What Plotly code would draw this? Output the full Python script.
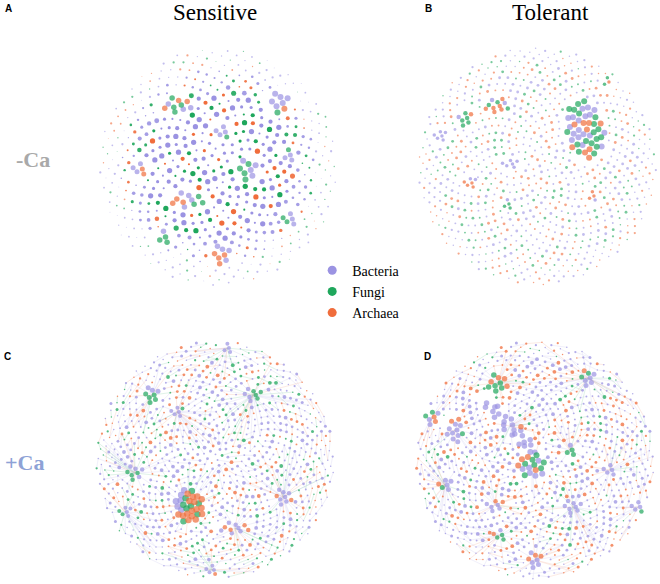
import math
import plotly.graph_objects as go

# ---------------- data ----------------
CATEGORIES = ["Bacteria", "Fungi", "Archaea"]
CODES = ["B", "F", "A"]
COLUMN_TITLES = ["Sensitive", "Tolerant"]
ROW_TITLES = ["-Ca", "+Ca"]
PANEL_LABELS = ["A", "B", "C", "D"]

# peripheral nodes of each network: count, type sequence, degree-class sequence
A_BG_COUNT = 640
A_BG_TYPES = ("BFBBABBBBF" "ABBBFABBBB" "ABBFBABBBF" "BABBBFABFB" "BAFBBBFBAB"
              "FBBABFBBBA" "BBFBABBFBB" "AFBBBBABBF" "BBAFBBBFAB" "FBBABBF")
A_BG_DEG = "4352435324" "5342534435" "2435425345" "2343524534" "2533452435" "4253425345" "2"
B_BG_COUNT = 900
B_BG_TYPES = ("BAFBABBFBA" "ABFABBAFAB" "BFBABFABAB" "FBAABFBABB" "FABBAFBAFB"
              "ABBFBBAFAB" "FBABAFBABF" "ABFBBABFBA" "BFABABFBBA" "FBABAFB")
B_BG_DEG = "2322323222" "3323232223" "2322332322" "2323223323" "2232322332" "3223232232" "3"
C_BG_COUNT = 1100
C_BG_TYPES = ("BABFBBBBFA" "BBAFBABBFB" "ABBFBBABFB" "ABBAFBBBBF" "BABAFBBABF"
              "BBBBAFBABF" "BBABABFBBA" "FBBBBABFBA" "BBAFBABBBF" "BABBFAB")
C_BG_DEG = "2332232432" "2323342232" "3224323322" "3242332232" "4232322343" "2232342322" "3"
D_BG_COUNT = 1100
D_BG_TYPES = ("BABBFBABBA" "FBABBABFBA" "BABBAFBBAB" "ABBFBABBAB" "BABFBBABBA"
              "FBABBABABF" "BBABABBFBA" "BABBAFBBAB" "BFBABBABAB" "BAFBBAB")
D_BG_DEG = "2342232432" "3232342232" "3224323423" "3242332243" "4232432343" "2232342324" "3"

# modules (densely connected groups) of each network, listed as member types
A_MODULES = ["FFABBAFFBA", "BBBABBFB", "BFFBFBFB", "BABFAFBBFA", "AABBABAB",
             "FFBF", "BFBBF", "ABBAB", "BBBFB", "BBFB"]
B_MODULES = ["ABABBAFBFBBFAFBFFBBABFFBFBFAFFBBFBAFFBFBAFBAF", "AAFAFBABFAA",
             "FFFFBAF", "BBBBBB", "AABAAB", "BBBBBB", "AAAB", "FFBF", "AFF"]
C_MODULES = ["FFAAFAAFABAABFAAFBAABAAFABAFBA", "FFBFFBFB", "FBFFBFBB",
             "FFBBFBFB", "BBBBABBBA", "BABBAABBAB", "BFBBFB", "BBBAB", "BBBB", "BBBBBF"]
D_MODULES = ["FFAFAAFFAF", "ABFAFBB", "BBBBBBBAFBAB", "BBBBBBBBBBBBBBBBBBBBBBBAB",
             "FBFAFBBAFBFBAFFBBA", "BBFBFBBA", "FFBF", "BFBBAB", "BBABAABB",
             "FFBFA", "BBBBBBBB", "BBABBAB", "BBBBB", "BBBFB"]

# ---------------- layout & style ----------------
COLORS = {"B": "#9b93e2", "F": "#1fa75c", "A": "#f06d3c"}
R = 119
PANEL_CENTERS = [(218, 167), (537, 166), (215, 460), (535, 460)]
# module placement: (dx, dy, marker size, node spacing, stretch x, stretch y, angle deg)
A_MOD_LAYOUT = [(-40, -62, 5.5, 6.5, 1.3, 0.8, 0), (62, -64, 6, 7, 1, 1, 0), (30, 3, 6, 7, 1, 1, 0),
                (-30, 33, 5.5, 6.5, 1.5, 0.8, 0), (4, 88, 5.5, 6.5, 1, 1, 0), (-55, 70, 5.5, 6.5, 1, 1, 0),
                (72, 52, 5, 6, 1, 1, 0), (-78, 2, 5, 6, 1, 1, 0), (5, -35, 5, 6, 1, 1, 0),
                (70, -12, 5, 6, 1, 1, 0)]
B_MOD_LAYOUT = [(48, -36, 6, 6.5, 0.8, 1.25, -15), (-40, -60, 4.5, 5.5, 1.3, 0.8, 0),
                (-72, -48, 4.5, 5.5, 1, 1, 0), (-97, -30, 3.5, 5, 1, 1, 0), (-67, 17, 3.5, 5, 1, 1, 0),
                (-27, -2, 3.5, 5, 1.3, 0.8, 0), (55, 30, 3.5, 5, 1, 1, 0), (-30, 38, 3.5, 5, 1, 1, 0),
                (70, -84, 3.5, 5, 1, 1, 0)]
C_MOD_LAYOUT = [(-26, 46, 6.5, 5.2, 0.95, 1.1, 0), (-63, -65, 5, 5.5, 1, 1, 0), (38, -65, 4.5, 5.5, 1.3, 0.8, 0),
                (-80, 13, 4.5, 5.5, 1.2, 0.9, 0), (68, 37, 4.5, 5.5, 1, 1, 0), (20, 68, 4.5, 5.5, 1.6, 0.7, 0),
                (-90, 52, 4, 5, 1, 1, 0), (-3, 110, 4, 5, 1, 1, 0), (12, -112, 4, 5, 1, 1, 0),
                (-38, -48, 4, 5, 1, 1, 0)]
D_MOD_LAYOUT = [(-37, -77, 5.5, 6, 1, 1, 0), (-103, -43, 5, 5.5, 1, 1, 0), (-80, -30, 5, 5.5, 0.9, 1.2, 0),
                (-25, -34, 5.5, 5.5, 2.6, 0.5, 45), (-3, 5, 6, 6, 1, 1, 0), (53, -82, 5, 5.5, 1, 1, 0),
                (35, -10, 5, 5.5, 1, 1, 0), (-90, 25, 5, 5.5, 1, 1, 0), (0, 100, 5, 5.5, 1, 1, 0),
                (-35, 75, 4.5, 5.5, 1, 1, 0), (38, 47, 4.5, 5.5, 1.3, 0.8, 0), (-40, 45, 4.5, 5.5, 1.3, 0.8, 0),
                (75, 10, 4.5, 5.5, 1, 1, 0), (103, 47, 4.5, 5.5, 1, 1, 0)]

# (background count, types, degrees, modules, module layout, size mode, bg opacity, edges)
NETWORKS = [
    (A_BG_COUNT, A_BG_TYPES, A_BG_DEG, A_MODULES, A_MOD_LAYOUT, "sparse_big", 1.0, False),
    (B_BG_COUNT, B_BG_TYPES, B_BG_DEG, B_MODULES, B_MOD_LAYOUT, "small", 0.6, False),
    (C_BG_COUNT, C_BG_TYPES, C_BG_DEG, C_MODULES, C_MOD_LAYOUT, "small", 0.75, True),
    (D_BG_COUNT, D_BG_TYPES, D_BG_DEG, D_MODULES, D_MOD_LAYOUT, "small", 0.75, True),
]

GA = math.pi * (3 - math.sqrt(5))


def node_slot(i, salt):
    """Integer mixing of a node id, so that the recorded sequences are not laid out along the spiral order."""
    x = (i * 0x9E3779B1 + salt) & 0xFFFFFFFF
    x ^= x >> 15
    x = (x * 0x85EBCA6B) & 0xFFFFFFFF
    x ^= x >> 13
    x = (x * 0xC2B2AE35) & 0xFFFFFFFF
    x ^= x >> 16
    return x


def disk_layout(n, radius):
    pts = []
    for i in range(n):
        r = radius * math.sqrt((i + 0.5) / n)
        t = i * GA
        pts.append((r * math.cos(t), r * math.sin(t)))
    return pts


def module_layout(n, spacing, sx, sy, ang):
    a = math.radians(ang)
    pts = []
    for j in range(n):
        r = 0.55 * spacing * math.sqrt(j + 0.5)
        t = j * GA
        x, y = r * math.cos(t) * sx, r * math.sin(t) * sy
        pts.append((x * math.cos(a) - y * math.sin(a), x * math.sin(a) + y * math.cos(a)))
    return pts


fig = go.Figure()

for (cx, cy), (n_bg, bg_types, bg_deg, modules, mod_lay, mode, bg_op, with_edges) in zip(PANEL_CENTERS, NETWORKS):
    mod_nodes = []
    anchors = []
    for k, (members, (dx, dy, msize, sp, sx, sy, ang)) in enumerate(zip(modules, mod_lay)):
        pts = module_layout(len(members), sp, sx, sy, ang)
        ax, ay = cx + dx, cy + dy
        rad = 0.55 * sp * math.sqrt(len(members)) + sp * 0.6
        anchors.append((ax, ay, rad, sx, sy, ang))
        for (px, py), t in zip(pts, members):
            mod_nodes.append((ax + px, ay + py, t, msize, k))

    layout_pts = disk_layout(n_bg, R)
    bg_nodes = []
    kept = {}
    LT, LD = len(bg_types), len(bg_deg)
    for i, (px, py) in enumerate(layout_pts):
        x, y = cx + px, cy + py
        blocked = False
        for (ax, ay, rad, sx, sy, ang) in anchors:
            a = math.radians(ang)
            ux, uy = x - ax, y - ay
            lx = ux * math.cos(a) + uy * math.sin(a)
            ly = -ux * math.sin(a) + uy * math.cos(a)
            if (lx / sx) ** 2 + (ly / sy) ** 2 < rad ** 2:
                blocked = True
                break
        if blocked:
            continue
        t = bg_types[node_slot(i, 12345) % LT]
        d = int(bg_deg[node_slot(i, 777) % LD])
        rr = math.hypot(px, py) / R
        if mode == "sparse_big":
            if rr < 0.62:
                f, op = 1.05, 1.0
            elif rr < 0.82:
                f, op = 1.05 - (rr - 0.62) / 0.2 * 0.55, 0.9
            else:
                f, op = 0.45, 0.6
            size = d * f
        else:
            size = d * (0.95 if rr < 0.85 else 0.75)
            op = bg_op
        bg_nodes.append((x, y, t, size, op, i))
        kept[i] = (x, y, t)

    if with_edges:
        for code in CODES:
            ex, ey = [], []
            for i, (x, y, t) in kept.items():
                if t != code:
                    continue
                s = node_slot(i, 4242)
                if s % 3 != 2:
                    off = (21, 34, 55)[(s >> 4) % 3]
                    j = i + off
                    if j in kept:
                        ex += [x, kept[j][0], None]
                        ey += [y, kept[j][1], None]
                best = None
                for (ax, ay, rad, sx, sy, ang) in anchors:
                    dd = math.hypot(x - ax, y - ay)
                    if best is None or dd < best[0]:
                        best = (dd, ax, ay)
                if best[0] < 60 and node_slot(i, 99) % 4 == 0:
                    ex += [x, best[1], None]
                    ey += [y, best[2], None]
            fig.add_trace(go.Scatter(x=ex, y=ey, mode="lines", hoverinfo="skip",
                                     line=dict(color=COLORS[code], width=0.6),
                                     opacity=0.22, showlegend=False))

    for code, name in zip(CODES, CATEGORIES):
        pts = [p for p in bg_nodes if p[2] == code]
        fig.add_trace(go.Scatter(
            x=[p[0] for p in pts], y=[p[1] for p in pts], mode="markers", name=name,
            marker=dict(color=COLORS[code], size=[p[3] for p in pts],
                        opacity=[p[4] for p in pts], line=dict(width=0)),
            showlegend=False, hoverinfo="skip"))
    for code, name in zip(CODES, CATEGORIES):
        pts = [p for p in mod_nodes if p[2] == code]
        fig.add_trace(go.Scatter(
            x=[p[0] for p in pts], y=[p[1] for p in pts], mode="markers", name=name,
            marker=dict(color=COLORS[code], size=[p[3] for p in pts], line=dict(width=0)),
            showlegend=False, hoverinfo="skip"))

# legend entries
for code, name in zip(CODES, CATEGORIES):
    fig.add_trace(go.Scatter(x=[None], y=[None], mode="markers", name=name,
                             marker=dict(color=COLORS[code], size=9)))

ann = []
serif = "Liberation Serif, Times New Roman, serif"
sans = "Liberation Sans, Arial, sans-serif"
for lab, (x, y) in zip(PANEL_LABELS, [(8, 8), (428, 8), (7, 356), (427, 356)]):
    ann.append(dict(x=x, y=y, text="<b>%s</b>" % lab, showarrow=False, xanchor="center",
                    yanchor="middle", font=dict(family=sans, size=10, color="black")))
for t, x in zip(COLUMN_TITLES, [215, 550]):
    ann.append(dict(x=x, y=12, text=t, showarrow=False, xanchor="center", yanchor="middle",
                    font=dict(family=serif, size=23, color="black")))
for t, (x, y), col in zip(ROW_TITLES, [(33, 159), (24, 462)], ["#a9a9a9", "#8ea2d6"]):
    ann.append(dict(x=x, y=y, text="<b>%s</b>" % t, showarrow=False, xanchor="center",
                    yanchor="middle", font=dict(family=serif, size=22, color=col)))

fig.update_layout(
    width=660, height=584, margin=dict(l=0, r=0, t=0, b=0),
    paper_bgcolor="white", plot_bgcolor="white",
    xaxis=dict(range=[0, 660], visible=False, fixedrange=True),
    yaxis=dict(range=[584, 0], visible=False, fixedrange=True),
    annotations=ann,
    legend=dict(x=0.473, y=0.564, xanchor="left", yanchor="top",
                font=dict(family=serif, size=14, color="black"),
                bgcolor="rgba(0,0,0,0)", itemwidth=30, tracegroupgap=0),
    showlegend=True,
)

fig.write_html("out.html", config={"displayModeBar": False},
               post_script="document.body.style.margin='0';")
